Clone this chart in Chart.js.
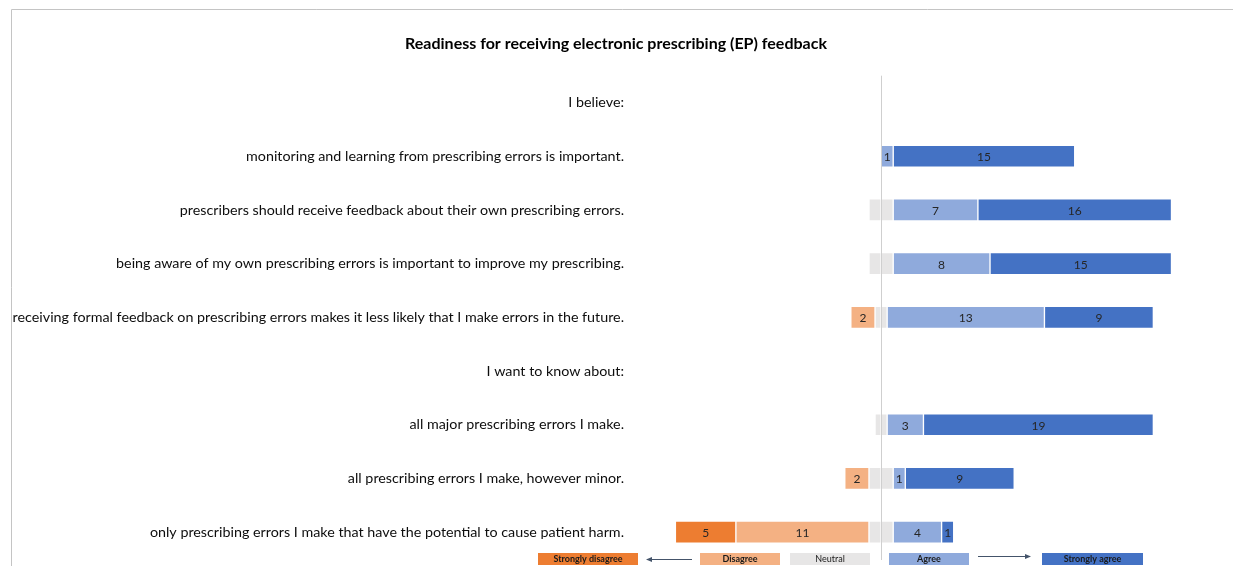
<!DOCTYPE html>
<html>
<head>
<meta charset="utf-8">
<title>Readiness for receiving electronic prescribing (EP) feedback</title>
<script src="https://cdn.jsdelivr.net/npm/chart.js@4/dist/chart.umd.min.js"></script>
<style>
  html, body { margin: 0; padding: 0; background: #ffffff; }
  #wrap { position: relative; width: 1233px; height: 566px; }
</style>
</head>
<body>
<div id="wrap"><canvas id="chart" width="1233" height="566"></canvas></div>
<script>
// Survey statements (rows), top to bottom
const statements = [
  "I believe:",
  "monitoring and learning from prescribing errors is important.",
  "prescribers should receive feedback about their own prescribing errors.",
  "being aware of my own prescribing errors is important to improve my prescribing.",
  "receiving formal feedback on prescribing errors makes it less likely that I make errors in the future.",
  "I want to know about:",
  "all major prescribing errors I make.",
  "all prescribing errors I make, however minor.",
  "only prescribing errors I make that have the potential to cause patient harm."
];

// Number of respondents per answer (null = section heading row)
const stronglyDisagree = [null, 0, 0, 0, 0, null, 0, 0, 5];
const disagree         = [null, 0, 0, 0, 2, null, 0, 2, 11];
const neutral          = [null, 0, 2, 2, 1, null, 1, 2, 2];
const agree            = [null, 1, 7, 8, 13, null, 3, 1, 4];
const stronglyAgree    = [null, 15, 16, 15, 9, null, 19, 9, 1];

const answerLabels = ["Strongly disagree", "Disagree", "Neutral", "Agree", "Strongly agree"];
const answerColors = ["#ED7D31", "#F4B183", "#E7E6E6", "#8FAADC", "#4472C4"];

// Axis extent (respondents, left of zero = disagreement)
const xMin = -21;
const xMax = 29;

const FONT = "Lato, 'Liberation Sans', sans-serif";

const neg = arr => arr.map(v => v === null ? null : -v);
const half = (arr, sign) => arr.map(v => v === null ? null : sign * v / 2);

const datasets = [
  { label: "Neutral", key: 2, data: half(neutral, -1), showValue: false },
  { label: "Disagree", key: 1, data: neg(disagree), showValue: true },
  { label: "Strongly disagree", key: 0, data: neg(stronglyDisagree), showValue: true },
  { label: "Neutral", key: 2, data: half(neutral, 1), showValue: false },
  { label: "Agree", key: 3, data: agree, showValue: true },
  { label: "Strongly agree", key: 4, data: stronglyAgree, showValue: true }
].map(d => ({
  label: d.label,
  data: d.data,
  showValue: d.showValue,
  backgroundColor: answerColors[d.key],
  borderColor: "#ffffff",
  borderWidth: 1,
  borderSkipped: false,
  barThickness: 22,
  stack: "likert"
}));

// Frame lines round the chart
const framePlugin = {
  id: "frame",
  beforeDraw(chart) {
    const ctx = chart.ctx;
    ctx.save();
    ctx.strokeStyle = "#c4c4c4";
    ctx.lineWidth = 1;
    ctx.beginPath();
    ctx.moveTo(11.5, chart.height);
    ctx.lineTo(11.5, 9.5);
    ctx.lineTo(chart.width, 9.5);
    ctx.stroke();
    ctx.restore();
  }
};

// Vertical line at zero
const zeroLinePlugin = {
  id: "zeroLine",
  afterDatasetsDraw(chart) {
    const x = Math.round(chart.scales.x.getPixelForValue(0)) + 0.5;
    const ctx = chart.ctx;
    ctx.save();
    ctx.strokeStyle = "#cfcfcf";
    ctx.lineWidth = 1;
    ctx.beginPath();
    ctx.moveTo(x, chart.chartArea.top);
    ctx.lineTo(x, chart.chartArea.bottom + 1);
    ctx.stroke();
    ctx.restore();
  }
};

// Counts written in the middle of each segment
const valueLabelPlugin = {
  id: "valueLabels",
  afterDatasetsDraw(chart) {
    const ctx = chart.ctx;
    ctx.save();
    ctx.font = "12px " + FONT;
    ctx.fillStyle = "#262626";
    ctx.textAlign = "center";
    ctx.textBaseline = "middle";
    chart.data.datasets.forEach((ds, i) => {
      if (!ds.showValue) return;
      chart.getDatasetMeta(i).data.forEach((el, j) => {
        const v = ds.data[j];
        if (v === null || v === 0) return;
        const p = el.getProps(["x", "y", "base"], true);
        ctx.fillText(String(Math.abs(v)), (p.x + p.base) / 2, p.y + 1);
      });
    });
    ctx.restore();
  }
};

// Answer scale key along the bottom edge
const scaleKeyPlugin = {
  id: "scaleKey",
  afterDraw(chart) {
    const ctx = chart.ctx;
    const boxes = [
      { x: 538, w: 100, bold: true },
      { x: 700, w: 80, bold: true },
      { x: 790, w: 80, bold: false },
      { x: 889, w: 80, bold: true },
      { x: 1042, w: 101, bold: true }
    ];
    const top = 553, h = 12;
    ctx.save();
    boxes.forEach((b, i) => {
      ctx.fillStyle = answerColors[i];
      ctx.fillRect(b.x, top, b.w, h);
      ctx.fillStyle = "#1a1a1a";
      ctx.font = (b.bold ? "bold " : "") + "9px " + FONT;
      ctx.textAlign = "center";
      ctx.textBaseline = "middle";
      ctx.fillText(answerLabels[i], b.x + b.w / 2, top + h / 2 + 0.5);
    });
    // arrows pointing away from the neutral middle
    const arrow = (x1, x2, y) => {
      ctx.strokeStyle = "#44546A";
      ctx.fillStyle = "#44546A";
      ctx.lineWidth = 1;
      ctx.beginPath();
      ctx.moveTo(x1, y);
      ctx.lineTo(x2, y);
      ctx.stroke();
      const d = Math.sign(x2 - x1);
      ctx.beginPath();
      ctx.moveTo(x2 + d * 2, y);
      ctx.lineTo(x2 - d * 4, y - 2.5);
      ctx.lineTo(x2 - d * 4, y + 2.5);
      ctx.closePath();
      ctx.fill();
    };
    arrow(692, 648, 559.5);
    arrow(978, 1029, 556.5);
    ctx.restore();
  }
};

new Chart(document.getElementById("chart"), {
  type: "bar",
  data: { labels: statements, datasets: datasets },
  options: {
    indexAxis: "y",
    responsive: false,
    animation: false,
    devicePixelRatio: 1,
    layout: { padding: { top: 0, right: 1, bottom: 7, left: 0 } },
    plugins: {
      legend: { display: false },
      tooltip: { enabled: false },
      title: {
        display: true,
        text: "Readiness for receiving electronic prescribing (EP) feedback",
        color: "#000000",
        font: { family: FONT, size: 16, weight: "bold", lineHeight: 1.2 },
        padding: { top: 34, bottom: 22.5 }
      }
    },
    scales: {
      x: {
        display: false,
        stacked: true,
        min: xMin,
        max: xMax
      },
      y: {
        stacked: true,
        afterFit(scale) {
          scale.width = 627;
          scale.paddingTop = 0;
          scale.paddingBottom = 0;
        },
        grid: { display: false, drawTicks: false },
        border: { display: false },
        ticks: {
          color: "#0d0d0d",
          padding: 3,
          font: { family: FONT, size: 14.3 }
        }
      }
    }
  },
  plugins: [framePlugin, zeroLinePlugin, valueLabelPlugin, scaleKeyPlugin]
});
</script>
</body>
</html>
